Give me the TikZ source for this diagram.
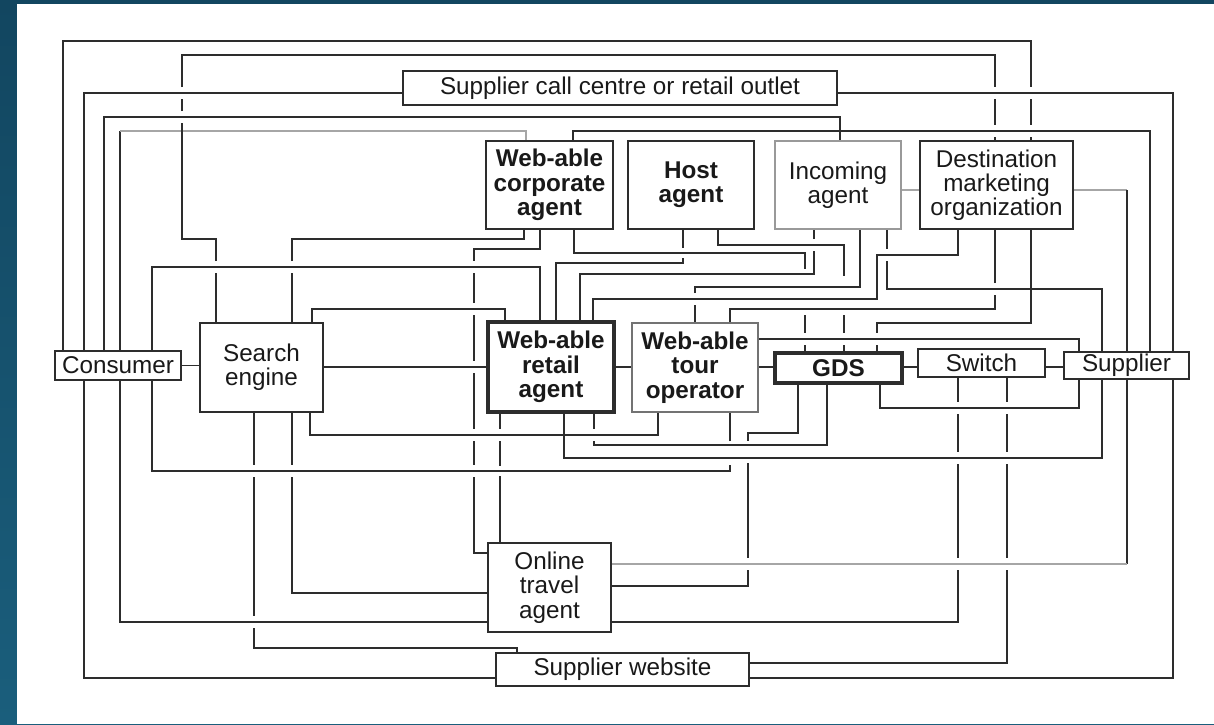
\documentclass[tikz,border=0pt]{standalone}
\usepackage{fontspec}
\setmainfont{Liberation Sans}
\definecolor{tealtop}{RGB}{18,70,96}
\definecolor{tealbot}{RGB}{26,94,124}
\definecolor{ink}{RGB}{45,45,45}
\newcommand{\boxfont}{\fontsize{13.8}{13.8}\selectfont}
\tikzset{
  box/.style={draw=ink, line width=0.85pt, align=center, inner sep=0pt, text=black!90, font=\boxfont},
  boldbox/.style={box, line width=1.25pt, font=\boxfont\bfseries},
  heavybox/.style={box, line width=2pt, font=\boxfont\bfseries},
  greybox/.style={box, draw=black!40, line width=1.1pt},
  wire/.style={draw=ink, line width=0.85pt},
  gwire/.style={draw=black!35, line width=1pt}
}

\begin{document}
\begin{tikzpicture}[x=0.2mm, y=-0.2mm]
\useasboundingbox (0,0) rectangle (1214,724);
\fill[top color=tealtop, bottom color=tealbot] (0,0) rectangle (1214,724);
\fill[white] (17,4) rectangle (1214,724);

% Boxes
\node[box, minimum width=86.8mm, minimum height=6.8mm] (call) at (620,88) {Supplier call centre or retail outlet};
\node[boldbox, minimum width=25.4mm, minimum height=17.6mm] (corp) at (549.5,185) {Web-able\\corporate\\agent};
\node[boldbox, minimum width=25.2mm, minimum height=17.6mm] (host) at (691,185) {Host\\agent};
\node[greybox, minimum width=25.2mm, minimum height=17.6mm] (inc) at (838,185) {Incoming\\agent};
\node[box, minimum width=30.6mm, minimum height=17.6mm] (dmo) at (996.5,185) {Destination\\marketing\\organization};
\node[box, minimum width=25.2mm, minimum height=5.8mm] (cons) at (118,365.5) {Consumer};
\node[box, minimum width=24.6mm, minimum height=17.8mm] (srch) at (261.5,367.5) {Search\\engine};
\node[heavybox, minimum width=25.2mm, minimum height=18mm] (retail) at (551,367) {Web-able\\retail\\agent};
\node[boldbox, draw=black!55, line width=1.4pt, minimum width=25.2mm, minimum height=17.8mm] (tour) at (695,367.5) {Web-able\\tour\\operator};
\node[heavybox, minimum width=25.4mm, minimum height=6mm] (gds) at (838.5,368) {GDS};
\node[box, minimum width=25.4mm, minimum height=5.6mm] (sw) at (981.5,363) {Switch};
\node[box, minimum width=25mm, minimum height=5.4mm] (supp) at (1126.5,365.5) {Supplier};
\node[box, minimum width=24.6mm, minimum height=17.8mm] (ota) at (549.5,587.5) {Online\\travel\\agent};
\node[box, minimum width=50.6mm, minimum height=6.6mm] (web) at (622.5,669.5) {Supplier website};

% Consumer links
\draw[wire] (63,0 |- cons.north) -- (63,41) -- (1031,41) -- (1031,87) (1031,99) -- (1031,125) (1031,137) -- (1031,0 |- dmo.north);
\draw[wire] (84,0 |- cons.north) -- (84,93) -- (84,93 -| call.west);
\draw[wire] (84,0 |- cons.south) -- (84,678) -- (84,678 -| web.west);
\draw[wire] (104,0 |- cons.north) -- (104,117) -- (840,117) -- (840,0 |- inc.north);
\draw[wire] (120,0 |- cons.north) -- (120,131);
\draw[gwire] (120,131) -- (526,131) -- (526,0 |- corp.north);
\draw[wire] (120,0 |- cons.south) -- (120,622) -- (120,622 -| ota.west);
\draw[wire] (152,0 |- cons.north) -- (152,267) -- (540,267) -- (540,0 |- retail.north);
\draw[wire] (152,0 |- cons.south) -- (152,471) -- (730,471) -- (730,465) (730,441) -- (730,0 |- tour.south);
\draw[wire] (cons.east) -- (cons.east -| srch.west);

% Search engine links
\draw[wire] (216,0 |- srch.north) -- (216,273) (216,261) -- (216,239) -- (182,239) -- (182,123) (182,111) -- (182,99) (182,87) -- (182,55) -- (995,55) -- (995,87) (995,99) -- (995,125) (995,137) -- (995,0 |- dmo.north);
\draw[wire] (292,0 |- srch.north) -- (292,273) (292,261) -- (292,239) -- (524,239) -- (524,0 |- corp.south);
\draw[wire] (312,0 |- srch.north) -- (312,309) -- (505,309) -- (505,0 |- retail.north);
\draw[wire] (254,0 |- srch.south) -- (254,465) (254,477) -- (254,616) (254,628) -- (254,648) -- (517,648) -- (517,0 |- web.north);
\draw[wire] (292,0 |- srch.south) -- (292,465) (292,477) -- (292,593) -- (292,593 -| ota.west);
\draw[wire] (310,0 |- srch.south) -- (310,435) -- (658,435) -- (658,0 |- tour.south);
\draw[wire] (srch.east |- 0,367) -- (retail.west |- 0,367);

% Corporate agent links
\draw[wire] (540,0 |- corp.south) -- (540,249) -- (474,249) -- (474,261) (474,273) -- (474,303) (474,315) -- (474,361) (474,373) -- (474,429) (474,441) -- (474,465) (474,477) -- (474,553) -- (474,553 -| ota.west);
\draw[wire] (574,0 |- corp.south) -- (574,253) -- (805,253) -- (805,269) (805,315) -- (805,333) (805,345) -- (805,0 |- gds.north);
\draw[wire] (573,0 |- corp.north) -- (573,131) -- (1150,131) -- (1150,0 |- supp.north);

% Host agent links
\draw[wire] (683,0 |- host.south) -- (683,248) (683,258) -- (683,263) -- (556,263) -- (556,0 |- retail.north);
\draw[wire] (718,0 |- host.south) -- (718,245) -- (844,245) -- (844,276) (844,315) -- (844,333) (844,345) -- (844,0 |- gds.north);

% Incoming agent links
\draw[wire] (580,0 |- retail.north) -- (580,274) -- (814,274) -- (814,251) (814,239) -- (814,0 |- inc.south);
\draw[wire] (695,0 |- tour.north) -- (695,305) (695,293) -- (695,287) -- (860,287) -- (860,0 |- inc.south);
\draw[wire] (887,0 |- inc.south) -- (887,249) (887,261) -- (887,289) -- (1102,289) -- (1102,0 |- supp.north);
\draw[gwire] (inc.east |- 0,190) -- (dmo.west |- 0,190);

% Destination marketing links
\draw[wire] (593,0 |- retail.north) -- (593,299) -- (877,299) -- (877,255) -- (958,255) -- (958,0 |- dmo.south);
\draw[wire] (730,0 |- tour.north) -- (730,309) -- (995,309) -- (995,295) (995,283) -- (995,0 |- dmo.south);
\draw[wire] (1031,0 |- dmo.south) -- (1031,323) -- (877,323) -- (877,333) (877,345) -- (877,0 |- gds.north);
\draw[gwire] (dmo.east |- 0,190) -- (1127,190);
\draw[wire] (1127,190) -- (1127,0 |- supp.north);
\draw[wire] (1127,0 |- supp.south) -- (1127,564);
\draw[gwire] (1127,564) -- (1127,564 -| ota.east);

% Call centre
\draw[wire] (1173,93 -| call.east) -- (1173,93) -- (1173,0 |- supp.north);

% Retail agent, tour operator, GDS
\draw[wire] (retail.east |- 0,367) -- (tour.west |- 0,367);
\draw[wire] (tour.east |- 0,367) -- (gds.west |- 0,367);
\draw[wire] (gds.east |- 0,367) -- (sw.west |- 0,367);
\draw[wire] (sw.east |- 0,367) -- (supp.west |- 0,367);
\draw[wire] (1079,339 -| tour.east) -- (1079,339) -- (1079,0 |- supp.north);
\draw[wire] (500,0 |- retail.south) -- (500,429) (500,441) -- (500,466) (500,476) -- (500,0 |- ota.north);
\draw[wire] (564,0 |- retail.south) -- (564,458) -- (1102,458) -- (1102,0 |- supp.south);
\draw[wire] (594,0 |- retail.south) -- (594,429) (594,441) -- (594,445) -- (827,445) -- (827,0 |- gds.south);
\draw[wire] (798,0 |- gds.south) -- (798,433) -- (748,433) -- (748,441) (748,463) -- (748,558) (748,570) -- (748,586) -- (748,586 -| ota.east);
\draw[wire] (880,0 |- gds.south) -- (880,408) -- (1079,408) -- (1079,0 |- supp.south);

% Switch and website
\draw[wire] (958,0 |- sw.south) -- (958,402) (958,414) -- (958,452) (958,464) -- (958,558) (958,570) -- (958,622) -- (958,622 -| ota.east);
\draw[wire] (1007,0 |- sw.south) -- (1007,402) (1007,414) -- (1007,452) (1007,464) -- (1007,558) (1007,570) -- (1007,663) -- (1007,663 -| web.east);
\draw[wire] (1173,678 -| web.east) -- (1173,678) -- (1173,0 |- supp.south);

\end{tikzpicture}
\end{document}
